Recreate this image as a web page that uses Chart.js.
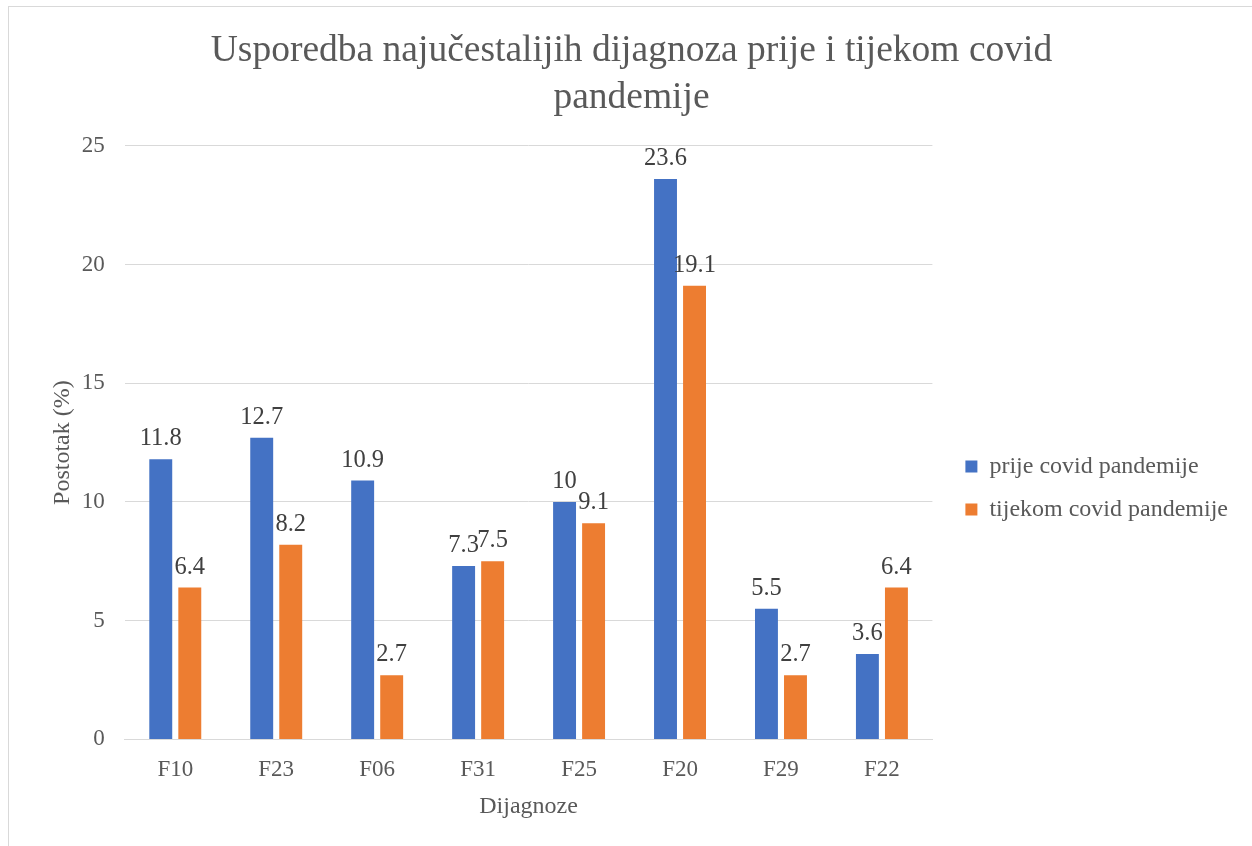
<!DOCTYPE html>
<html lang="hr">
  <head>
    <meta charset="UTF-8" />
    <title>Usporedba dijagnoza</title>
    <script src="https://cdn.jsdelivr.net/npm/chart.js"></script>
    <style>
      body { margin: 0; background: #fff; }
      #wrap {
        position: absolute; left: 8px; top: 6px;
        width: 1244px; height: 840px;
        border-left: 1px solid #d9d9d9; border-top: 1px solid #d9d9d9;
      }
    </style>
  </head>
  <body>
    <div id="wrap"><canvas id="myChart" width="1243" height="839"></canvas></div>

    <script>
      // podaci s grafa
      const categories = ["F10", "F23", "F06", "F31", "F25", "F20", "F29", "F22"];
      const beforeCovid = [11.8, 12.7, 10.9, 7.3, 10, 23.6, 5.5, 3.6];
      const duringCovid = [6.4, 8.2, 2.7, 7.5, 9.1, 19.1, 2.7, 6.4];
      const seriesNames = ["prije covid pandemije", "tijekom covid pandemije"];

      const FONT = "'Liberation Serif', 'Times New Roman', serif";
      const TXT = "#595959";
      const LEGEND_EXTRA = 8; // legenda malo sira
      const LEGEND_SHIFT = 14; // stavke legende pomaknute udesno

      // vrijednosti iznad stupaca
      const valueLabels = {
        id: "valueLabels",
        afterDatasetsDraw(chart) {
          const ctx = chart.ctx;
          ctx.save();
          ctx.font = "24.5px " + FONT;
          ctx.fillStyle = "#404040";
          ctx.textAlign = "center";
          ctx.textBaseline = "bottom";
          chart.data.datasets.forEach((ds, i) => {
            chart.getDatasetMeta(i).data.forEach((bar, j) => {
              ctx.fillText(String(ds.data[j]), bar.x, bar.y - 8);
            });
          });
          ctx.restore();
        },
      };

      // legenda malo odmaknuta od podrucja grafa
      const legendGap = {
        id: "legendGap",
        beforeLayout(chart) {
          const leg = chart.legend;
          if (!leg || leg._gapDone) return;
          leg._gapDone = true;
          const fit = leg.fit.bind(leg);
          leg.fit = function () {
            fit();
            this.width += LEGEND_EXTRA;
          };
          const draw = leg.draw.bind(leg);
          leg.draw = function () {
            this.left += LEGEND_SHIFT;
            draw();
            this.left -= LEGEND_SHIFT;
          };
        },
      };

      new Chart(document.getElementById("myChart"), {
        type: "bar",
        data: {
          labels: categories,
          datasets: [
            { label: seriesNames[0], data: beforeCovid, backgroundColor: "#4472c4" },
            { label: seriesNames[1], data: duringCovid, backgroundColor: "#ed7d31" },
          ],
        },
        options: {
          responsive: false,
          animation: false,
          categoryPercentage: 0.575,
          barPercentage: 0.79,
          layout: { padding: { left: 22, right: 20, bottom: 23, top: 8 } },
          plugins: {
            title: {
              display: true,
              text: ["Usporedba najučestalijih dijagnoza prije i tijekom covid", "pandemije"],
              font: { family: FONT, size: 37.5, weight: "normal", lineHeight: 1.25 },
              color: TXT,
              padding: { top: 13, bottom: 24 },
            },
            legend: {
              position: "right",
              title: { display: true, text: " ", font: { size: 10 }, padding: 63 },
              labels: {
                font: { family: FONT, size: 24 },
                color: TXT,
                boxWidth: 12,
                boxHeight: 12,
                padding: 19,
              },
            },
            tooltip: { enabled: false },
          },
          scales: {
            x: {
              grid: { display: false },
              border: { color: "#d9d9d9" },
              ticks: { font: { family: FONT, size: 23 }, color: TXT, padding: 9 },
              title: {
                display: true,
                text: "Dijagnoze",
                font: { family: FONT, size: 24, lineHeight: 1.0 },
                color: TXT,
                padding: { top: 2 },
              },
            },
            y: {
              min: 0,
              max: 25,
              ticks: { stepSize: 5, font: { family: FONT, size: 23 }, color: TXT, padding: 20 },
              grid: { color: "#d9d9d9", drawTicks: false },
              border: { display: false },
              title: {
                display: true,
                text: "Postotak (%)",
                font: { family: FONT, size: 24 },
                color: TXT,
                padding: { top: 17, bottom: -15 },
              },
            },
          },
        },
        plugins: [valueLabels, legendGap],
      });
    </script>
  </body>
</html>
